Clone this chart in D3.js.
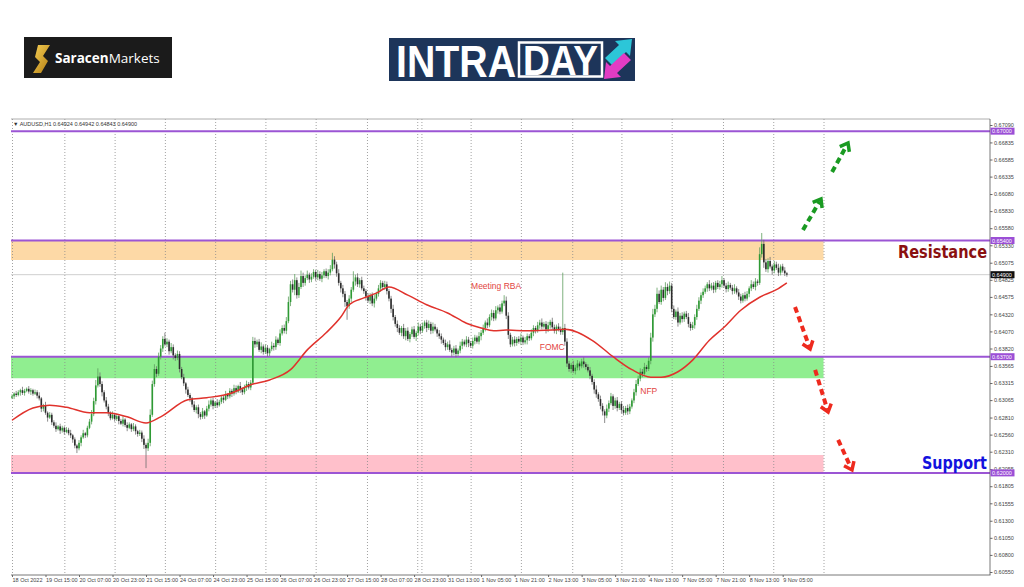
<!DOCTYPE html>
<html>
<head>
<meta charset="utf-8">
<script src="https://cdn.jsdelivr.net/npm/d3@7"></script>
<style>
  body { margin: 0; background: #fff; }
  svg { display: block; }
</style>
</head>
<body>
<svg id="chart" width="1024" height="587"></svg>
<script>
// ---- data ----
const symbolInfo = "AUDUSD,H1  0.64924 0.64942 0.64843 0.64900";

const timeLabels = ["18 Oct 2022", "19 Oct 15:00", "20 Oct 07:00", "20 Oct 23:00", "21 Oct 15:00",
  "24 Oct 07:00", "24 Oct 23:00", "25 Oct 15:00", "26 Oct 07:00", "26 Oct 23:00", "27 Oct 15:00",
  "28 Oct 07:00", "28 Oct 23:00", "31 Oct 13:00", "1 Nov 05:00", "1 Nov 21:00", "2 Nov 13:00",
  "3 Nov 05:00", "3 Nov 21:00", "4 Nov 13:00", "7 Nov 05:00", "7 Nov 21:00", "8 Nov 13:00", "9 Nov 05:00"];
const labelBars = timeLabels.map((d, i) => i * 16);

const gridBars = [0, 25, 49, 73, 97, 121, 145, 169.5, 193.5, 195.5, 219, 243, 267.5, 291, 315, 339.5, 363.5, 387.5];

const priceTicks = [0.67090, 0.66835, 0.66585, 0.66335, 0.66080, 0.65830, 0.65580, 0.65330, 0.65075,
  0.64825, 0.64575, 0.64320, 0.64070, 0.63820, 0.63565, 0.63315, 0.63065, 0.62810, 0.62560, 0.62310,
  0.62055, 0.61805, 0.61555, 0.61300, 0.61050, 0.60800, 0.60550];

const levels = [0.67000, 0.65400, 0.63700, 0.62000];
const lastPrice = 0.64900;

// zones: [low, high], they stop at bar 387.5
const resistanceZone = [0.65115, 0.65400];
const demandZone = [0.63385, 0.63700];
const supportZone = [0.62000, 0.62262];
const zoneEndBar = 387.5;

// hourly candles, pips above 0.6000; open = previous close
const firstOpen = 310;
const closes = [
  312,316,314,318,321,317,320,323,319,321, 316,318,313,309,294,298,288,281,285,274,
  269,264,268,262,266,260,263,258,255,249, 240,236,244,252,258,255,266,275,286,305,
  328,341,330,318,306,297,288,280,285,279, 283,276,272,278,270,266,271,264,268,261,
  257,259,250,241,236,244,285,330,352,345, 370,382,396,388,392,378,384,372,368,374,
  352,340,331,322,314,309,300,292,296,286, 282,290,284,294,300,306,298,303,299,304,
  310,307,315,312,320,316,324,319,327,322, 318,325,330,325,332,393,388,392,380,385,
  377,383,375,381,386,384,395,390,404,412, 408,422,450,476,468,482,460,472,488,478,
  485,490,483,487,494,486,491,484,489,495, 488,493,498,512,505,492,478,470,462,450,
  444,455,468,480,486,476,482,470,466,458, 452,460,448,455,462,470,478,472,476,466,
  455,440,428,418,412,405,412,400,408,396, 403,410,399,405,414,408,415,420,412,418,
  408,414,410,404,400,395,390,384,388,380, 376,382,374,379,386,392,388,395,390,386,
  393,398,392,400,405,412,420,416,428,434, 426,438,442,436,448,452,430,402,388,395,
  390,396,392,398,391,394,400,397,405,412, 408,416,420,414,418,410,416,421,413,408,
  414,410,406,412,392,360,352,358,349,354, 360,356,363,359,355,350,342,333,322,315,
  308,298,290,284,294,302,312,298,306,295, 301,292,288,295,290,297,306,318,330,338,
  348,345,355,352,364,398,432,440,462,450, 468,456,472,466,474,440,428,436,420,430,
  425,433,428,418,412,416,428,440,452,460, 465,470,476,470,474,468,478,472,476,482,
  474,469,475,471,466,470,464,458,452,460, 455,462,470,476,472,480,478,520,535,508,
  498,510,502,496,505,500,493,502,496,492, 490];
const wickUp = [
  3,2,4,3,2,5,3,2,4,3, 2,4,3,5,2,3,6,2,4,3, 3,5,2,4,3,2,4,3,5,2, 3,2,4,3,5,2,3,4,6,5,
  8,12,6,4,3,5,4,2,5,3, 4,2,3,5,2,4,3,2,5,3, 2,4,3,5,3,6,8,5,7,4, 6,5,4,9,5,3,6,4,3,5,
  4,3,5,2,4,3,2,5,3,4, 3,5,2,4,6,3,4,2,5,3, 4,3,5,2,4,3,5,4,2,6, 3,4,5,3,4,6,5,3,4,6,
  3,5,4,2,6,4,5,3,6,4, 5,6,8,5,7,9,4,6,8,5, 4,6,3,5,4,3,6,4,5,3, 4,5,6,10,5,4,6,3,5,4,
  3,5,4,15,4,6,3,5,4,3, 5,3,4,6,3,5,4,3,5,4, 3,4,6,3,5,4,3,6,4,5, 3,4,5,3,6,4,5,3,4,5,
  3,6,4,3,5,4,3,5,4,6, 3,4,5,3,6,4,3,5,4,3, 5,4,3,6,4,5,3,6,4,5, 4,6,3,5,4,8,6,5,3,4,
  5,3,4,6,3,5,4,3,5,4, 3,5,4,6,3,4,5,3,6,4, 3,5,4,81,6,5,4,3,6,4, 5,3,4,6,3,4,5,3,4,6,
  3,5,4,3,6,4,5,3,4,5, 3,4,6,3,5,4,3,5,6,4, 5,4,6,3,5,7,8,6,9,5, 6,4,7,5,6,4,5,3,6,4,
  5,3,4,6,3,5,4,6,5,4, 5,4,3,6,4,5,3,4,5,6, 3,4,5,3,4,6,3,5,4,3, 5,4,3,6,4,5,3,10,16,6,
  5,4,6,3,5,4,6,3,4,5, 2];
const wickDn = [
  2,4,3,2,5,3,4,2,3,5, 3,2,4,3,5,4,3,6,2,4, 3,4,2,5,3,4,2,3,4,5, 4,7,3,5,2,4,3,2,4,3,
  5,3,4,6,3,4,5,3,2,4, 3,5,2,4,3,5,2,4,3,5, 4,3,5,6,29,4,5,3,4,5, 3,4,5,3,4,5,3,6,4,3,
  5,3,4,6,3,5,4,3,5,6, 4,3,5,2,4,3,5,3,4,2, 3,5,2,4,3,5,3,4,2,5, 4,3,5,3,4,3,5,4,3,5,
  4,3,5,4,3,5,4,3,4,3, 4,5,3,6,4,8,5,4,3,6, 4,3,5,4,3,5,4,3,5,4, 3,5,4,3,6,5,4,6,5,7,
  20,4,5,3,6,4,5,3,4,6, 3,5,4,6,3,4,5,3,4,5, 4,6,5,4,6,3,5,4,6,3, 5,4,3,6,4,5,3,4,6,3,
  5,4,3,5,4,6,3,5,4,3, 6,4,5,3,4,5,3,4,6,3, 4,5,3,4,6,3,5,4,3,5, 4,3,5,4,3,4,5,6,4,3,
  5,4,3,5,4,3,6,4,3,5, 4,3,5,4,3,6,4,5,3,4, 5,3,4,4,6,5,4,6,3,5, 4,6,3,5,4,3,5,4,6,5,
  4,5,6,11,4,5,3,6,4,5, 3,5,4,3,5,4,3,4,5,3, 4,5,3,4,3,5,6,4,5,3, 4,5,3,6,4,5,3,4,6,3,
  5,4,3,5,4,3,5,4,3,5, 4,3,5,4,3,5,4,3,4,5, 3,5,4,3,5,4,3,5,4,3, 4,3,5,4,3,5,4,3,5,8,
  4,5,3,6,4,3,5,4,3,4, 3];

// red moving average, read at these bars (pips above 0.6000)
const maBars = [0,10,18,26,37,45,55,64,71,84, 93,105,114,123,133,141,150,157,161,168,
  174,180,189,198,208,217,224,230,236,246, 258,264,277,287,296,305,310,318,325,333,
  340,348,357,365,370];
const maVals = [277,295,299,296,288,288,282,273,282,307, 310,317,329,336,351,380,405,428,446,456,
  463,472,460,446,434,419,412,408,409,408, 409,410,394,370,351,340,340,348,365,394,
  413,438,457,468,478];

// event notes [bar, price, text]
const notes = [[219.2, 0.64690, "Meeting RBA"], [252, 0.63800, "FOMC"], [300, 0.63155, "NFP"]];

// dashed scenario arrows [barFrom, priceFrom, barTo, priceTo]
const upArrows = [[377.7, 0.65554, 386.3, 0.66007], [391.6, 0.66402, 399.2, 0.66827]];
const downArrows = [[373.9, 0.64427, 381.1, 0.63813], [383.5, 0.63506, 389.7, 0.62891], [394.5, 0.62482, 401.1, 0.62043]];

// ---- drawing ----
const svg = d3.select("#chart");
const pL = 11, pR = 990, pT = 119, pB = 575;
const axisFont = "'Liberation Sans', Arial, sans-serif";

const x = d3.scaleLinear().domain([0, 467]).range([12, 990]);
const y = d3.scaleLinear().domain([0.60550, 0.67090]).range([572, 125]);
const pip = v => 0.6 + v / 10000;

// header logos
const logo1 = svg.append("g");
logo1.append("rect").attr("x", 24).attr("y", 37).attr("width", 148).attr("height", 41).attr("fill", "#1b1b1b");
const defs = svg.append("defs");
const gold = defs.append("linearGradient").attr("id", "gold").attr("x1", 0).attr("y1", 0).attr("x2", 1).attr("y2", 1);
gold.append("stop").attr("offset", "0%").attr("stop-color", "#f6cf55");
gold.append("stop").attr("offset", "100%").attr("stop-color", "#b17d12");
logo1.append("path")
    .attr("d", "M38,45 L50,45 L43,56 L48,61 L41,73 L33,73 L40,62 L35,57 Z")
    .attr("fill", "url(#gold)");
const sm = logo1.append("text").attr("x", 55).attr("y", 63)
    .attr("font-family", "'Open Sans', sans-serif").attr("font-size", 13.5).attr("fill", "#fff");
sm.append("tspan").attr("font-weight", "bold").text("Saracen");
sm.append("tspan").text("Markets");

const logo2 = svg.append("g");
logo2.append("rect").attr("x", 389).attr("y", 38).attr("width", 246).attr("height", 43).attr("fill", "#1d355a");
logo2.append("text").attr("x", 396).attr("y", 77).text("INTRA")
    .attr("font-family", "'Liberation Sans', Arial, sans-serif").attr("font-weight", "bold")
    .attr("font-size", 44).attr("fill", "#fff")
    .attr("textLength", 120).attr("lengthAdjust", "spacingAndGlyphs");
logo2.append("rect").attr("x", 519).attr("y", 42.5).attr("width", 83).attr("height", 34)
    .attr("fill", "none").attr("stroke", "#fff").attr("stroke-width", 2.5);
logo2.append("text").attr("x", 523).attr("y", 75).text("DAY")
    .attr("font-family", "'Liberation Sans', Arial, sans-serif").attr("font-weight", "bold")
    .attr("font-size", 42).attr("fill", "#fff")
    .attr("textLength", 75).attr("lengthAdjust", "spacingAndGlyphs");
logo2.append("polygon").attr("points", "605,58 619,45 615,41 632,39 630,56 626,52 612,65").attr("fill", "#2cc6d8");
logo2.append("polygon").attr("points", "631,60 617,73 621,77 604,79 606,62 610,66 624,53").attr("fill", "#e23cc4");

// chart
svg.append("clipPath").attr("id", "plot")
  .append("rect").attr("x", pL).attr("y", pT).attr("width", pR - pL).attr("height", pB - pT);
const plot = svg.append("g").attr("clip-path", "url(#plot)");

const zones = [[resistanceZone, "#fdd9a6"], [demandZone, "#90ee90"], [supportZone, "#ffc0cb"]];
plot.selectAll(".zone").data(zones).join("rect")
    .attr("class", "zone")
    .attr("x", pL).attr("width", x(zoneEndBar) - pL)
    .attr("y", d => y(d[0][1])).attr("height", d => y(d[0][0]) - y(d[0][1]))
    .attr("fill", d => d[1]);

plot.selectAll(".grid").data(gridBars).join("line")
    .attr("class", "grid")
    .attr("x1", d => x(d) + 0.5).attr("x2", d => x(d) + 0.5)
    .attr("y1", pT).attr("y2", pB)
    .attr("stroke", "#8a8a8a").attr("stroke-width", 0.8).attr("stroke-dasharray", "1,2");

plot.append("line")
    .attr("x1", pL).attr("x2", pR).attr("y1", y(lastPrice)).attr("y2", y(lastPrice))
    .attr("stroke", "#cfcfcf").attr("stroke-width", 1);

plot.selectAll(".level").data(levels).join("line")
    .attr("class", "level")
    .attr("x1", pL).attr("x2", pR).attr("y1", d => y(d)).attr("y2", d => y(d))
    .attr("stroke", "#9b55d4").attr("stroke-width", 2);

// candles
const bars = closes.map((c, i) => {
  const o = i === 0 ? firstOpen : closes[i - 1];
  return {
    i: i,
    o: pip(o), c: pip(c),
    h: pip(Math.max(o, c) + wickUp[i]),
    l: pip(Math.min(o, c) - wickDn[i])
  };
});
const candle = plot.append("g").selectAll("g").data(bars).join("g");
candle.append("line")
    .attr("x1", d => x(d.i)).attr("x2", d => x(d.i))
    .attr("y1", d => y(d.h)).attr("y2", d => y(d.l))
    .attr("stroke", d => d.c >= d.o ? "#5e9e5e" : "#6e6e6e").attr("stroke-width", 0.8);
candle.append("rect")
    .attr("x", d => x(d.i) - 0.8).attr("width", 1.6)
    .attr("y", d => y(Math.max(d.o, d.c)))
    .attr("height", d => Math.max(0.8, Math.abs(y(d.o) - y(d.c))))
    .attr("fill", d => d.c >= d.o ? "#2e9a34" : "#2d2d2d");

// moving average
const ma = d3.zip(maBars, maVals);
plot.append("path").datum(ma)
    .attr("fill", "none").attr("stroke", "#e0322c").attr("stroke-width", 1.5)
    .attr("d", d3.line().x(d => x(d[0])).y(d => y(pip(d[1]))).curve(d3.curveMonotoneX));

// notes
plot.selectAll(".note").data(notes).join("text")
    .attr("class", "note")
    .attr("x", d => x(d[0])).attr("y", d => y(d[1]))
    .attr("font-family", "'Liberation Sans', Arial, sans-serif").attr("font-size", 8.5)
    .attr("fill", "#e2443e").text(d => d[2]);

// scenario arrows
function drawArrow(a, color) {
  const x0 = x(a[0]), y0 = y(a[1]), x1 = x(a[2]), y1 = y(a[3]);
  const ang = Math.atan2(y1 - y0, x1 - x0);
  const len = 9, spread = 0.65;
  plot.append("line")
      .attr("x1", x0).attr("y1", y0)
      .attr("x2", x1 - 3 * Math.cos(ang)).attr("y2", y1 - 3 * Math.sin(ang))
      .attr("stroke", color).attr("stroke-width", 4).attr("stroke-dasharray", "6,4");
  const p1 = [x1 - len * Math.cos(ang - spread), y1 - len * Math.sin(ang - spread)];
  const p2 = [x1 - len * Math.cos(ang + spread), y1 - len * Math.sin(ang + spread)];
  plot.append("polyline")
      .attr("points", [p1, [x1, y1], p2].map(p => p.join(",")).join(" "))
      .attr("fill", "none").attr("stroke", color).attr("stroke-width", 3.5);
}
upArrows.forEach(a => drawArrow(a, "#1a9a22"));
downArrows.forEach(a => drawArrow(a, "#ee2a1e"));

// zone labels
svg.append("text").attr("x", 987).attr("y", 258).attr("text-anchor", "end").text("Resistance")
    .attr("font-family", "'DejaVu Sans', sans-serif").attr("font-weight", "bold").attr("font-size", 18)
    .attr("fill", "#8a1010").attr("textLength", 89).attr("lengthAdjust", "spacingAndGlyphs");
svg.append("text").attr("x", 987).attr("y", 469).attr("text-anchor", "end").text("Support")
    .attr("font-family", "'DejaVu Sans', sans-serif").attr("font-weight", "bold").attr("font-size", 18)
    .attr("fill", "#1212de").attr("textLength", 65).attr("lengthAdjust", "spacingAndGlyphs");

// frame
svg.append("line").attr("x1", pL).attr("x2", pR).attr("y1", pT).attr("y2", pT).attr("stroke", "#9a9a9a").attr("stroke-width", 0.8);
svg.append("line").attr("x1", pL).attr("x2", pR + 0.5).attr("y1", pB).attr("y2", pB).attr("stroke", "#555").attr("stroke-width", 0.8);
svg.append("line").attr("x1", pR).attr("x2", pR).attr("y1", pT).attr("y2", pB).attr("stroke", "#555").attr("stroke-width", 0.8);

svg.append("text").attr("x", 13).attr("y", 126)
    .attr("font-family", axisFont).attr("font-size", 5.5).attr("fill", "#333")
    .text("\u25BC " + symbolInfo);

// right price axis
const yAxis = svg.append("g").attr("transform", `translate(${pR},0)`)
    .call(d3.axisRight(y).tickValues(priceTicks).tickFormat(d3.format(".5f")).tickSize(2.5).tickPadding(1.5));
yAxis.select(".domain").remove();
yAxis.attr("font-family", axisFont).attr("font-size", 5.5);
yAxis.selectAll("line").attr("stroke", "#666");
yAxis.selectAll("text").attr("fill", "#444");

const tags = svg.append("g");
levels.forEach(v => {
  tags.append("rect").attr("x", pR + 0.5).attr("y", y(v) - 3.5).attr("width", 24).attr("height", 7).attr("fill", "#9b4fd6");
  tags.append("text").attr("x", pR + 2).attr("y", y(v) + 2).text(d3.format(".5f")(v))
      .attr("font-family", axisFont).attr("font-size", 5.5).attr("fill", "#fff");
});
tags.append("rect").attr("x", pR + 0.5).attr("y", y(lastPrice) - 3.5).attr("width", 24).attr("height", 7).attr("fill", "#111");
tags.append("text").attr("x", pR + 2).attr("y", y(lastPrice) + 2).text(d3.format(".5f")(lastPrice))
    .attr("font-family", axisFont).attr("font-size", 5.5).attr("fill", "#fff");

// bottom time axis
const xAxis = svg.append("g").attr("transform", `translate(0,${pB})`)
    .call(d3.axisBottom(x).tickValues(labelBars).tickFormat((d, i) => timeLabels[i]).tickSize(2).tickPadding(1.5));
xAxis.select(".domain").remove();
xAxis.attr("font-family", axisFont).attr("font-size", 5.5);
xAxis.selectAll("line").attr("stroke", "#666");
xAxis.selectAll("text").attr("text-anchor", "start").attr("fill", "#444");
</script>
</body>
</html>
